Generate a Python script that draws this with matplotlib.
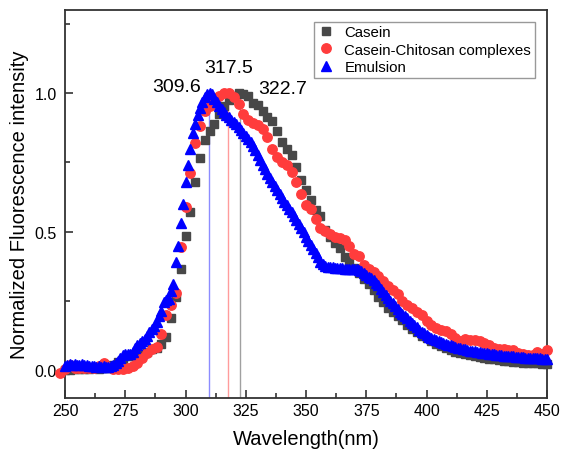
import numpy as np
import matplotlib
matplotlib.use('Agg')
import matplotlib.pyplot as plt
from matplotlib.ticker import MultipleLocator

plt.rcParams['font.family'] = ['Liberation Sans', 'DejaVu Sans']

# Casein, every 2 nm from 250 to 450
casein_wl = list(range(250, 451, 2))
casein = [0.000, 0.000, 0.005, 0.005, 0.005, 0.005, 0.010, 0.005, 0.010, 0.010,
          0.020, 0.030, 0.040, 0.050, 0.050, 0.055, 0.060, 0.067, 0.075, 0.082,
          0.095, 0.120, 0.190, 0.265, 0.365, 0.485, 0.570, 0.680, 0.765, 0.830,
          0.865, 0.890, 0.925, 0.955, 0.976, 0.990, 1.000, 0.995, 0.990, 0.965,
          0.957, 0.935, 0.915, 0.900, 0.865, 0.825, 0.800, 0.775, 0.735, 0.685,
          0.650, 0.615, 0.580, 0.555, 0.505, 0.480, 0.460, 0.440, 0.410, 0.390,
          0.370, 0.350, 0.330, 0.310, 0.290, 0.265, 0.245, 0.225, 0.210, 0.195,
          0.180, 0.165, 0.150, 0.137, 0.125, 0.115, 0.105, 0.095, 0.088, 0.080,
          0.073, 0.067, 0.062, 0.058, 0.054, 0.050, 0.047, 0.044, 0.041, 0.039,
          0.037, 0.035, 0.033, 0.031, 0.030, 0.028, 0.027, 0.026, 0.025, 0.024,
          0.023]

# Casein-Chitosan complexes, every 2 nm from 248 to 450
complex_wl = list(range(248, 451, 2))
complexes = [-0.010, 0.005, 0.020, 0.010, 0.008, 0.008, 0.010, 0.010, 0.015, 0.025,
             0.012, 0.005, 0.003, 0.005, 0.010, 0.015, 0.025, 0.045, 0.062, 0.075,
             0.085, 0.130, 0.200, 0.235, 0.280, 0.445, 0.590, 0.710, 0.820, 0.880,
             0.935, 0.955, 0.965, 0.990, 1.000, 1.000, 0.985, 0.960, 0.925, 0.902,
             0.893, 0.885, 0.870, 0.840, 0.800, 0.770, 0.752, 0.740, 0.715, 0.680,
             0.635, 0.595, 0.583, 0.545, 0.515, 0.502, 0.490, 0.482, 0.478, 0.470,
             0.448, 0.420, 0.412, 0.380, 0.365, 0.355, 0.340, 0.322, 0.305, 0.290,
             0.275, 0.250, 0.237, 0.225, 0.212, 0.198, 0.178, 0.165, 0.152, 0.146,
             0.140, 0.130, 0.115, 0.105, 0.112, 0.110, 0.108, 0.105, 0.100, 0.090,
             0.082, 0.078, 0.076, 0.073, 0.072, 0.062, 0.058, 0.056, 0.055, 0.065,
             0.060, 0.072]

# Emulsion, every 1 nm from 250 to 450
emulsion_wl = list(range(250, 451))
emulsion = [0.015, 0.020, 0.022, 0.020, 0.022, 0.020, 0.018, 0.022, 0.020, 0.018,
            0.015, 0.017, 0.015, 0.013, 0.014, 0.013, 0.015, 0.012, 0.013, 0.015,
            0.018, 0.025, 0.035, 0.045, 0.055, 0.057, 0.058, 0.060, 0.066, 0.080,
            0.092, 0.100, 0.105, 0.112, 0.125, 0.138, 0.150, 0.158, 0.175, 0.195,
            0.215, 0.245, 0.255, 0.258, 0.285, 0.310, 0.390, 0.450, 0.530, 0.600,
            0.680, 0.740, 0.800, 0.855, 0.890, 0.920, 0.945, 0.968, 0.985, 0.998,
            1.000, 0.995, 0.980, 0.968, 0.955, 0.942, 0.932, 0.922, 0.912, 0.904,
            0.896, 0.888, 0.878, 0.868, 0.856, 0.845, 0.834, 0.822, 0.808, 0.793,
            0.778, 0.760, 0.742, 0.725, 0.708, 0.692, 0.678, 0.664, 0.650, 0.636,
            0.622, 0.608, 0.596, 0.583, 0.570, 0.556, 0.542, 0.528, 0.513, 0.498,
            0.482, 0.467, 0.452, 0.437, 0.422, 0.407, 0.392, 0.382, 0.377, 0.374,
            0.372, 0.371, 0.370, 0.369, 0.368, 0.368, 0.367, 0.367, 0.366, 0.366,
            0.365, 0.364, 0.361, 0.357, 0.352, 0.345, 0.337, 0.332, 0.325, 0.316,
            0.306, 0.295, 0.283, 0.272, 0.262, 0.251, 0.241, 0.231, 0.221, 0.211,
            0.203, 0.195, 0.187, 0.179, 0.171, 0.163, 0.155, 0.147, 0.139, 0.133,
            0.127, 0.121, 0.117, 0.113, 0.109, 0.106, 0.103, 0.100, 0.096, 0.093,
            0.090, 0.088, 0.085, 0.082, 0.080, 0.077, 0.075, 0.073, 0.071, 0.069,
            0.068, 0.066, 0.065, 0.064, 0.062, 0.061, 0.060, 0.058, 0.057, 0.056,
            0.055, 0.054, 0.053, 0.052, 0.051, 0.050, 0.050, 0.049, 0.048, 0.048,
            0.047, 0.046, 0.046, 0.045, 0.045, 0.044, 0.043, 0.043, 0.042, 0.042,
            0.041]

peaks = [309.6, 317.5, 322.7]
peak_labels = ['309.6', '317.5', '322.7']
peak_colors = ['#8c8cff', '#ff9c9c', '#a0a0a0']


def plot_spectra():
    fig = plt.figure(figsize=(5.61, 4.56), dpi=100)
    ax = fig.add_axes([0.1159, 0.125, 0.8592, 0.851])

    # peak position lines
    for p, c in zip(peaks, peak_colors):
        ax.plot([p, p], [-0.1, 1.0], color=c, lw=1.0, zorder=1)

    ax.plot(casein_wl, casein, ls='none', marker='s', ms=6.2, color='#484848',
            label='Casein', zorder=3, clip_on=False)
    ax.plot(complex_wl, complexes, ls='none', marker='o', ms=6.8, color='#ff3c3c',
            label='Casein-Chitosan complexes', zorder=4, clip_on=False)
    ax.plot(emulsion_wl, emulsion, ls='none', marker='^', ms=6.6, color='#0000ff',
            label='Emulsion', zorder=5, clip_on=False)

    ax.text(296.1, 1.025, peak_labels[0], fontsize=14, ha='center', va='center')
    ax.text(318.0, 1.094, peak_labels[1], fontsize=14, ha='center', va='center')
    ax.text(340.2, 1.018, peak_labels[2], fontsize=14, ha='center', va='center')

    ax.set_xlim(250, 450)
    ax.set_ylim(-0.1, 1.3)
    ax.xaxis.set_major_locator(MultipleLocator(25))
    ax.xaxis.set_minor_locator(MultipleLocator(12.5))
    ax.set_yticks([0.0, 0.5, 1.0])
    ax.yaxis.set_minor_locator(MultipleLocator(0.25))
    ax.tick_params(which='both', direction='in', top=False, right=False,
                   width=1.2, colors='#333333', labelcolor='black', labelsize=11.5)
    ax.tick_params(which='major', length=6)
    ax.tick_params(which='minor', length=3.5)
    ax.tick_params(axis='y', pad=6)
    for s in ax.spines.values():
        s.set_linewidth(1.3)
        s.set_color('#333333')

    ax.set_xlabel('Wavelength(nm)', fontsize=14.5, labelpad=8)
    ax.set_ylabel('Normalized Fluorescence intensity', fontsize=14.5, labelpad=4)

    leg = ax.legend(loc='upper right', bbox_to_anchor=(0.975, 0.97), fontsize=10.8,
                    fancybox=False, edgecolor='#999999', framealpha=1,
                    handletextpad=0.6, labelspacing=0.22, borderpad=0.25,
                    handlelength=1.2, borderaxespad=0.0)
    leg.get_frame().set_linewidth(1.0)

    plt.savefig('out.png', dpi=100)


plot_spectra()
